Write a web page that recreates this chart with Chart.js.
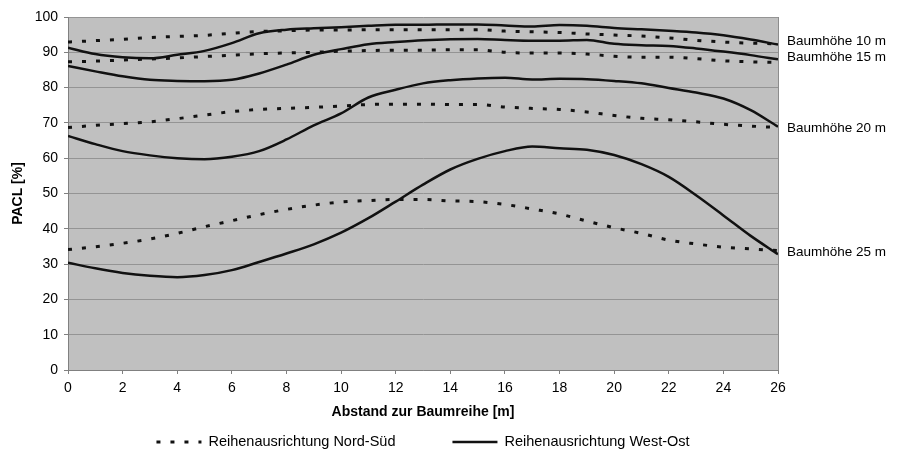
<!DOCTYPE html>
<html>
<head>
<meta charset="utf-8">
<script src="https://cdn.jsdelivr.net/npm/chart.js@4/dist/chart.umd.min.js"></script>
<style>
  html, body { margin: 0; padding: 0; background: #ffffff; }
  #wrap { width: 901px; height: 452px; }
</style>
</head>
<body>
<div id="wrap"><canvas id="c" width="901" height="452"></canvas></div>
<script>
// Abstand zur Baumreihe [m]
const distance = [0, 1, 2, 3, 4, 5, 6, 7, 8, 9, 10, 11, 12, 13, 14, 15, 16, 17, 18, 19, 20, 21, 22, 23, 24, 25, 26];

// PACL [%] – Reihenausrichtung Nord-Süd
const nordSued10 = [92.9, 93.3, 93.7, 94.2, 94.5, 94.8, 95.4, 95.9, 96.1, 96.3, 96.3, 96.4, 96.4, 96.4, 96.4, 96.4, 96.0, 95.8, 95.6, 95.2, 94.9, 94.6, 94.1, 93.4, 92.9, 92.6, 92.4];
const nordSued15 = [87.3, 87.5, 87.8, 88.1, 88.4, 88.8, 89.2, 89.6, 89.8, 90.0, 90.3, 90.5, 90.6, 90.6, 90.7, 90.7, 90.0, 89.8, 89.8, 89.5, 88.9, 88.6, 88.6, 88.2, 87.6, 87.3, 87.1];
const nordSued20 = [68.7, 69.3, 69.8, 70.3, 71.2, 72.2, 73.2, 73.8, 74.1, 74.4, 74.8, 75.2, 75.3, 75.3, 75.2, 75.2, 74.5, 74.1, 73.8, 73.1, 72.1, 71.3, 70.9, 70.3, 69.6, 69.1, 68.7];
const nordSued25 = [34.1, 34.9, 35.9, 37.1, 38.7, 40.6, 42.3, 44.0, 45.5, 46.7, 47.6, 48.0, 48.3, 48.3, 47.9, 47.7, 46.9, 45.6, 44.2, 42.2, 40.3, 38.7, 36.8, 35.7, 34.8, 34.3, 33.8];

// PACL [%] – Reihenausrichtung West-Ost
const westOst10 = [91.3, 89.5, 88.6, 88.3, 89.3, 90.4, 92.6, 95.4, 96.4, 96.8, 97.1, 97.5, 97.8, 97.8, 97.9, 97.9, 97.6, 97.3, 97.7, 97.5, 96.9, 96.5, 96.1, 95.6, 94.8, 93.6, 92.2];
const westOst15 = [86.1, 84.6, 83.2, 82.2, 81.9, 81.8, 82.2, 84.0, 86.5, 89.3, 90.9, 92.3, 92.9, 93.4, 93.7, 93.8, 93.5, 93.3, 93.3, 93.5, 92.4, 92.0, 91.8, 91.1, 90.2, 89.2, 88.0];
const westOst20 = [66.3, 64.0, 62.0, 60.8, 60.0, 59.7, 60.4, 62.0, 65.3, 69.3, 72.7, 77.2, 79.4, 81.2, 82.1, 82.6, 82.8, 82.3, 82.5, 82.4, 81.9, 81.2, 79.9, 78.6, 76.9, 73.6, 68.9];
const westOst25 = [30.4, 28.8, 27.5, 26.7, 26.3, 26.9, 28.3, 30.6, 33.0, 35.6, 38.9, 43.0, 47.7, 52.5, 56.8, 59.8, 62.0, 63.3, 62.8, 62.4, 60.9, 58.3, 54.7, 49.5, 43.8, 38.0, 32.8];

// Beschriftungen
const orientationNames = ['Reihenausrichtung Nord-Süd', 'Reihenausrichtung West-Ost'];
const treeHeightNames = ['Baumhöhe 10 m', 'Baumhöhe 15 m', 'Baumhöhe 20 m', 'Baumhöhe 25 m'];
const treeHeightLabelLevels = [93.0, 88.7, 68.6, 33.4];
const xAxisTitle = 'Abstand zur Baumreihe [m]';
const yAxisTitle = 'PACL [%]';

const FONT = "'Liberation Sans', Arial, Helvetica, sans-serif";
const INK = '#000000';
const LINE = '#111111';

function points(values) {
  return distance.map((d, i) => ({ x: d, y: values[i] }));
}

const dashedStyle = { borderColor: LINE, borderWidth: 3, borderDash: [4, 10], borderCapStyle: 'butt' };
const solidStyle  = { borderColor: LINE, borderWidth: 2.5, borderDash: [] };

function series(values, orientation, style) {
  return Object.assign({
    label: orientationNames[orientation],
    data: points(values),
    pointRadius: 0,
    pointHoverRadius: 0,
    fill: false,
    cubicInterpolationMode: 'monotone',
    orientation: orientation
  }, style);
}

const datasets = [
  series(nordSued10, 0, dashedStyle),
  series(nordSued15, 0, dashedStyle),
  series(nordSued20, 0, dashedStyle),
  series(nordSued25, 0, dashedStyle),
  series(westOst10, 1, solidStyle),
  series(westOst15, 1, solidStyle),
  series(westOst20, 1, solidStyle),
  series(westOst25, 1, solidStyle)
];

// grey plot background and right frame line
const plotFrame = {
  id: 'plotFrame',
  beforeDraw(chart) {
    const { ctx, chartArea: a } = chart;
    ctx.save();
    ctx.fillStyle = '#c0c0c0';
    ctx.fillRect(a.left, a.top, a.right - a.left, a.bottom - a.top);
    ctx.restore();
  },
  afterDatasetsDraw(chart) {
    const { ctx, chartArea: a } = chart;
    ctx.save();
    ctx.strokeStyle = '#8c8c8c';
    ctx.lineWidth = 1;
    ctx.beginPath();
    ctx.moveTo(a.right + 0.5, a.top);
    ctx.lineTo(a.right + 0.5, a.bottom);
    ctx.stroke();
    ctx.restore();
  }
};

// tree height labels next to the line ends
const heightLabels = {
  id: 'heightLabels',
  afterDraw(chart) {
    const { ctx, chartArea: a, scales: { y } } = chart;
    ctx.save();
    ctx.font = '13.5px ' + FONT;
    ctx.fillStyle = INK;
    ctx.textAlign = 'left';
    ctx.textBaseline = 'middle';
    treeHeightNames.forEach((name, i) => {
      ctx.fillText(name, a.right + 9, y.getPixelForValue(treeHeightLabelLevels[i]));
    });
    ctx.restore();
  }
};

// legend with one line sample per row orientation
const orientationLegend = {
  id: 'orientationLegend',
  afterDraw(chart) {
    const { ctx, chartArea: a } = chart;
    const sampleW = 45, gap = 7, itemGap = 57, yMid = 442;
    ctx.save();
    ctx.font = '14.5px ' + FONT;
    const items = orientationNames.map((name, k) => {
      const ds = datasets.find(d => d.orientation === k);
      return { name, ds, w: ctx.measureText(name).width };
    });
    const total = items.reduce((s, it) => s + sampleW + gap + it.w, 0) + itemGap * (items.length - 1);
    let x = (a.left + a.right) / 2 - total / 2;
    items.forEach(it => {
      ctx.strokeStyle = it.ds.borderColor;
      ctx.lineWidth = it.ds.borderWidth;
      ctx.setLineDash(it.ds.borderDash);
      ctx.lineCap = 'butt';
      ctx.beginPath();
      ctx.moveTo(x, yMid);
      ctx.lineTo(x + sampleW, yMid);
      ctx.stroke();
      ctx.setLineDash([]);
      ctx.fillStyle = INK;
      ctx.textAlign = 'left';
      ctx.textBaseline = 'middle';
      ctx.fillText(it.name, x + sampleW + gap, yMid);
      x += sampleW + gap + it.w + itemGap;
    });
    ctx.restore();
  }
};

new Chart(document.getElementById('c'), {
  type: 'line',
  data: { datasets },
  plugins: [plotFrame, heightLabels, orientationLegend],
  options: {
    responsive: false,
    devicePixelRatio: 1,
    animation: false,
    layout: { padding: { top: 17, right: 123, bottom: 27, left: 0 } },
    plugins: {
      legend: { display: false },
      tooltip: { enabled: false }
    },
    scales: {
      x: {
        type: 'linear',
        min: 0,
        max: 26,
        ticks: { stepSize: 2, color: INK, font: { family: FONT, size: 14 }, padding: 6, maxRotation: 0 },
        grid: { drawOnChartArea: false, drawTicks: true, tickLength: 4, color: '#808080' },
        border: { display: true, color: '#808080', width: 1 },
        title: { display: true, text: xAxisTitle, color: INK, font: { family: FONT, size: 14, weight: 'bold' }, padding: { top: 0, bottom: 4 } },
        afterFit(scale) { scale.height = 55; }
      },
      y: {
        min: 0,
        max: 100,
        ticks: { stepSize: 10, color: INK, font: { family: FONT, size: 14 }, padding: 6 },
        grid: { color: '#949494', lineWidth: 1, tickLength: 4, tickColor: '#808080' },
        border: { display: true, color: '#808080', width: 1 },
        title: { display: true, text: yAxisTitle, color: INK, font: { family: FONT, size: 14, weight: 'bold' }, padding: { top: 10, bottom: 0 } },
        afterFit(scale) { scale.width = 68; }
      }
    }
  }
});
</script>
</body>
</html>
